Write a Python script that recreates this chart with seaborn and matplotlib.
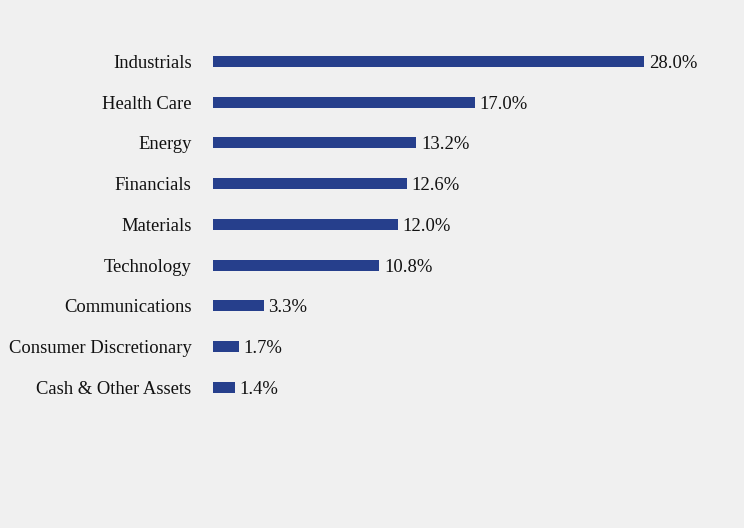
import matplotlib
matplotlib.use("Agg")
import matplotlib.pyplot as plt
import seaborn as sns
import pandas as pd

categories = ["Industrials", "Health Care", "Energy", "Financials", "Materials",
              "Technology", "Communications", "Consumer Discretionary", "Cash & Other Assets"]
values = [28.0, 17.0, 13.2, 12.6, 12.0, 10.8, 3.3, 1.7, 1.4]
labels = ["28.0%", "17.0%", "13.2%", "12.6%", "12.0%", "10.8%", "3.3%", "1.7%", "1.4%"]

df = pd.DataFrame({"Sector": categories, "Value": values})

sns.set_style("white")
plt.rcParams["font.family"] = ["Liberation Serif", "DejaVu Serif"]

bg = "#f0f0f0"
fs = 13.4
fig = plt.figure(figsize=(7.44, 5.28), dpi=100, facecolor=bg)
ax = fig.add_axes([213.0 / 744, 0.2275, 462 / 744, 0.9222 - 0.2275])
ax.set_facecolor(bg)

sns.barplot(data=df, x="Value", y="Sector", orient="h", color="#263f8c",
            saturation=1, width=0.27, linewidth=0, ax=ax)

ax.set_xlim(0, 30)
ax.set_ylim(8.5, -0.5)
for i, (v, t) in enumerate(zip(values, labels)):
    ax.text(v + 0.3, i, t, va="center_baseline", ha="left", fontsize=fs, color="#111111")

ax.set_xlabel("")
ax.set_ylabel("")
ax.set_xticks([])
ax.tick_params(axis="y", length=0, pad=15.5, labelsize=fs, labelcolor="#111111")
for lab in ax.get_yticklabels():
    lab.set_verticalalignment("center_baseline")
for s in ax.spines.values():
    s.set_visible(False)

fig.savefig("out.png", dpi=100, facecolor=bg)
